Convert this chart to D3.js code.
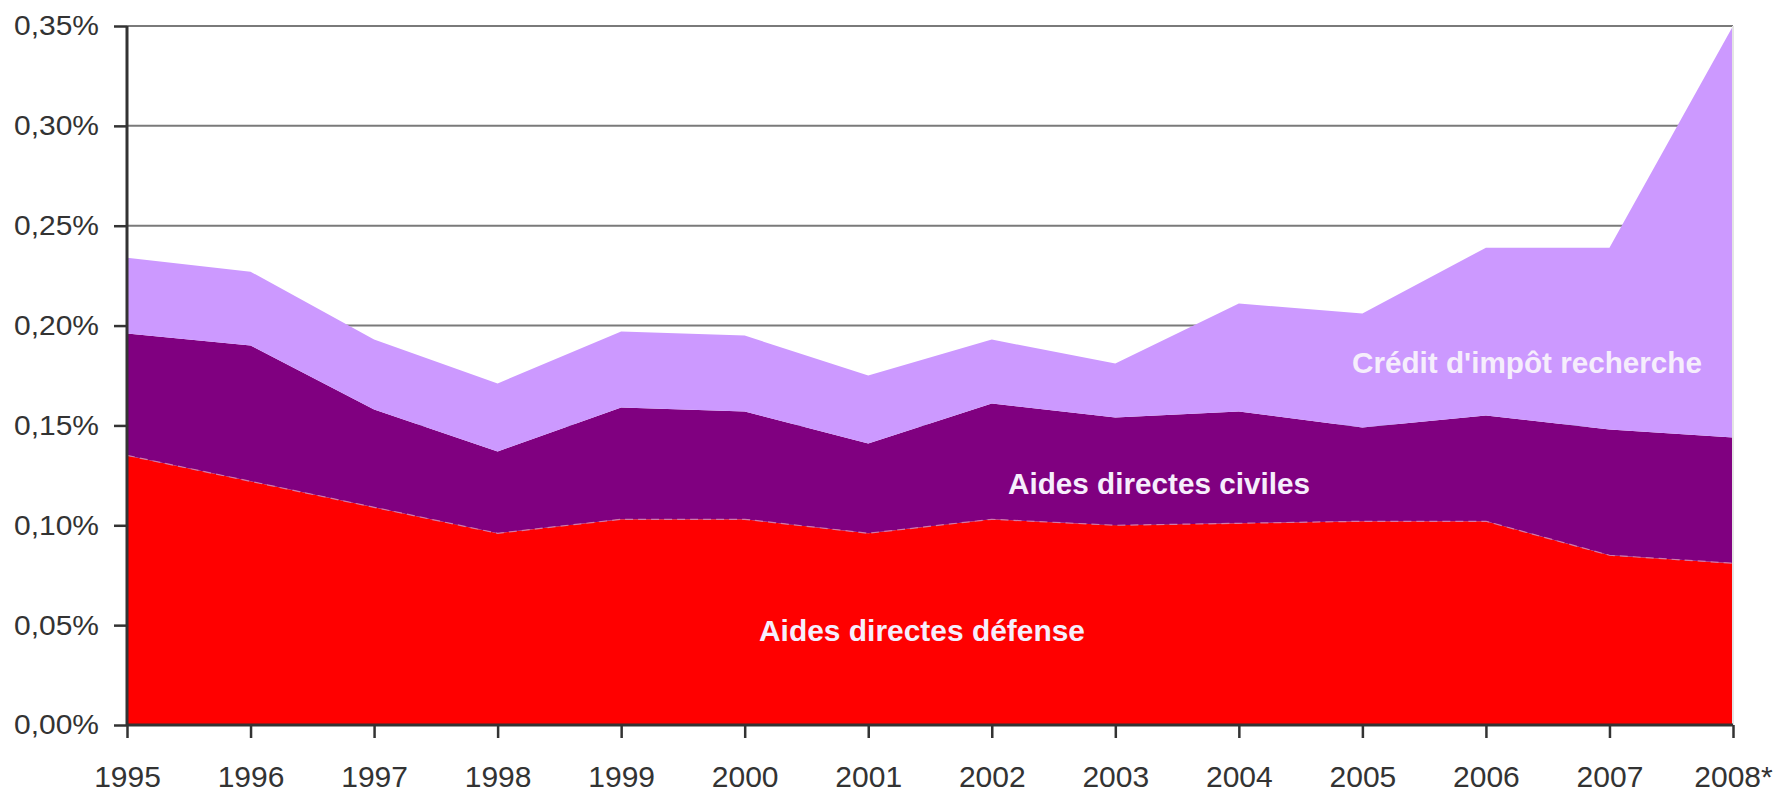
<!DOCTYPE html>
<html>
<head>
<meta charset="utf-8">
<script src="https://cdn.jsdelivr.net/npm/d3@7"></script>
<style>
  body { margin: 0; background: #fff; }
  svg { display: block; }
</style>
</head>
<body>
<div id="chart"></div>
<script>
// years on the x axis
const years = ["1995", "1996", "1997", "1998", "1999", "2000", "2001", "2002", "2003", "2004", "2005", "2006", "2007", "2008*"];

// values in % of GDP, one per year
const defense = [0.135, 0.122, 0.109, 0.096, 0.103, 0.103, 0.096, 0.103, 0.100, 0.101, 0.102, 0.102, 0.085, 0.081];
const civiles = [0.061, 0.068, 0.049, 0.041, 0.056, 0.054, 0.045, 0.058, 0.054, 0.056, 0.047, 0.053, 0.063, 0.063];
const cir     = [0.038, 0.037, 0.035, 0.034, 0.038, 0.038, 0.034, 0.032, 0.027, 0.054, 0.057, 0.084, 0.091, 0.206];

const seriesNames = ["Aides directes défense", "Aides directes civiles", "Crédit d'impôt recherche"];
const yTicks = [0, 0.05, 0.10, 0.15, 0.20, 0.25, 0.30, 0.35];

const width = 1790, height = 792;
const mLeft = 127, mRight = 1733, mTop = 26, mBottom = 725;

const colors = ["#ff0000", "#800080", "#cc99ff"];

const svg = d3.select("#chart")
  .append("svg")
  .attr("width", width)
  .attr("height", height)
  .style("font-family", "Arial, 'Liberation Sans', sans-serif");

const x = d3.scalePoint().domain(years).range([mLeft, mRight]);
const y = d3.scaleLinear().domain([0, 0.35]).range([mBottom, mTop]);

const table = years.map((yr, i) => ({ year: yr, d: defense[i], c: civiles[i], r: cir[i] }));
const layers = d3.stack().keys(["d", "c", "r"])(table);

// gridlines
svg.append("g")
  .selectAll("line")
  .data(yTicks.slice(1))
  .join("line")
    .attr("x1", mLeft)
    .attr("x2", mRight)
    .attr("y1", d => y(d))
    .attr("y2", d => y(d))
    .attr("stroke", "#7a7a7a")
    .attr("stroke-width", 2);

// stacked areas
const area = d3.area()
  .x(d => x(d.data.year))
  .y0(d => y(d[0]))
  .y1(d => y(d[1]));

svg.append("g")
  .selectAll("path")
  .data(layers)
  .join("path")
    .attr("fill", (d, i) => colors[i])
    .attr("d", area);

// light dashed seam on top of the red area
svg.append("path")
  .datum(layers[0])
  .attr("fill", "none")
  .attr("stroke", "#d07aa8")
  .attr("stroke-width", 1.2)
  .attr("stroke-dasharray", "8,5")
  .attr("d", d3.line().x(d => x(d.data.year)).y(d => y(d[1])));

// faint right border of plot
svg.append("line")
  .attr("x1", mRight).attr("x2", mRight)
  .attr("y1", mTop).attr("y2", mBottom)
  .attr("stroke", "#e4e4e4")
  .attr("stroke-width", 2);

// axes
const yAxis = d3.axisLeft(y)
  .tickValues(yTicks)
  .tickSize(13)
  .tickPadding(15)
  .tickFormat(d => d3.format(".2f")(d).replace(".", ",") + "%");

const gy = svg.append("g")
  .attr("transform", `translate(${mLeft},0)`)
  .call(yAxis);

const xAxis = d3.axisBottom(x)
  .tickSize(13)
  .tickPadding(28);

const gx = svg.append("g")
  .attr("transform", `translate(0,${mBottom})`)
  .call(xAxis);

[gx, gy].forEach(g => {
  g.select(".domain").attr("stroke", "#333").attr("stroke-width", 3);
  g.selectAll(".tick line").attr("stroke", "#333").attr("stroke-width", 2.5);
  g.selectAll(".tick text").attr("fill", "#333");
});
gy.selectAll(".tick text")
  .style("font-size", "28px")
  .attr("textLength", 85)
  .attr("lengthAdjust", "spacingAndGlyphs");
gx.selectAll(".tick text").style("font-size", "30px").attr("dy", "0.71em");
gy.select(".domain").attr("d", `M0,${mTop}V${mBottom}`);
gx.select(".domain").attr("d", `M${mLeft},0H${mRight}`);

// series labels inside the areas
const labels = [
  { name: seriesNames[0], cx: 922, cy: 630, w: 326 },
  { name: seriesNames[1], cx: 1159, cy: 483, w: 302 },
  { name: seriesNames[2], cx: 1527, cy: 362, w: 350 }
];

svg.append("g")
  .selectAll("text")
  .data(labels)
  .join("text")
    .attr("x", d => d.cx)
    .attr("y", d => d.cy)
    .attr("text-anchor", "middle")
    .attr("dominant-baseline", "central")
    .attr("fill", "#f6eefc")
    .attr("font-weight", "bold")
    .style("font-size", "30px")
    .attr("textLength", d => d.w)
    .attr("lengthAdjust", "spacingAndGlyphs")
    .text(d => d.name);
</script>
</body>
</html>
